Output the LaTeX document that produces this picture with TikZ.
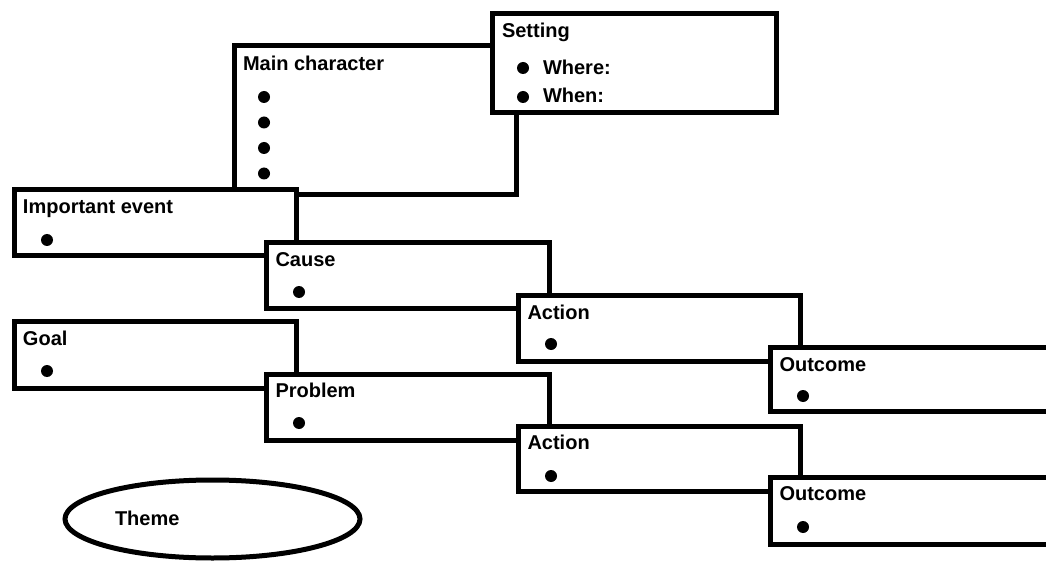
\documentclass[tikz,border=0pt]{standalone}
\usepackage{fontspec}
\setmainfont{Liberation Sans}
\usetikzlibrary{calc,shapes.geometric}
\begin{document}
\begin{tikzpicture}[x=1pt,y=-1pt,
  box/.style={draw=black, line width=5pt, fill=white, rectangle, inner sep=0pt, outer sep=0pt, anchor=north west},
  lbl/.style={anchor=base west, inner sep=0pt, outer sep=0pt, font=\bfseries\fontsize{20}{23}\selectfont},
  dot/.style={circle, fill=black, draw=none, inner sep=0pt, outer sep=0pt, minimum size=12pt},
  oval/.style={ellipse, draw=black, line width=5pt, fill=white, inner sep=0pt, outer sep=0pt}]
\useasboundingbox (0,0) rectangle (1046,561);
\clip (0,0) rectangle (1046,561);
\fill[white] (0,0) rectangle (1046,561);

% Main character
\node[box, minimum width=282pt, minimum height=149pt] (mc) at (234,46) {};
\node[lbl] (mc-t) at ($(mc.north west)+(9,25)$) {Main character};
\node[dot] (mc-b1) at ($(mc.north west)+(30,51)$) {};
\node[dot] (mc-b2) at ($(mc.north west)+(30,76.5)$) {};
\node[dot] (mc-b3) at ($(mc.north west)+(30,102)$) {};
\node[dot] (mc-b4) at ($(mc.north west)+(30,127.5)$) {};

% Setting
\node[box, minimum width=284pt, minimum height=99pt] (set) at (492,14) {};
\node[lbl] (set-t) at ($(set.north west)+(10,24)$) {Setting};
\node[dot] (set-b1) at ($(set.north west)+(31,54)$) {};
\node[lbl] (set-w1) at ($(set.north west)+(51,61)$) {Where:};
\node[dot] (set-b2) at ($(set.north west)+(31,83)$) {};
\node[lbl] (set-w2) at ($(set.north west)+(51,89)$) {When:};

% Chain 1
\node[box, minimum width=282pt, minimum height=66pt] (ie) at (14,190) {};
\node[lbl] (ie-t) at ($(ie.north west)+(9,24)$) {Important event};
\node[dot] (ie-b) at ($(ie.north west)+(33,50)$) {};

\node[box, minimum width=283pt, minimum height=65pt] (cause) at (266,243) {};
\node[lbl] (cause-t) at ($(cause.north west)+(9.5,23)$) {Cause};
\node[dot] (cause-b) at ($(cause.north west)+(33,49)$) {};

\node[box, minimum width=282pt, minimum height=66pt] (act1) at (518,295) {};
\node[lbl] (act1-t) at ($(act1.north west)+(9.5,24)$) {Action};
\node[dot] (act1-b) at ($(act1.north west)+(33,49)$) {};

\node[box, minimum width=300pt, minimum height=64pt] (out1) at (770,347) {};
\node[lbl] (out1-t) at ($(out1.north west)+(9.5,24)$) {Outcome};
\node[dot] (out1-b) at ($(out1.north west)+(33,49)$) {};

% Chain 2
\node[box, minimum width=282pt, minimum height=67pt] (goal) at (14,321) {};
\node[lbl] (goal-t) at ($(goal.north west)+(9,24)$) {Goal};
\node[dot] (goal-b) at ($(goal.north west)+(33,50)$) {};

\node[box, minimum width=283pt, minimum height=66pt] (prob) at (266,374) {};
\node[lbl] (prob-t) at ($(prob.north west)+(9.5,23.5)$) {Problem};
\node[dot] (prob-b) at ($(prob.north west)+(33,49)$) {};

\node[box, minimum width=282pt, minimum height=65pt] (act2) at (518,426) {};
\node[lbl] (act2-t) at ($(act2.north west)+(9.5,23.5)$) {Action};
\node[dot] (act2-b) at ($(act2.north west)+(33,50)$) {};

\node[box, minimum width=300pt, minimum height=67pt] (out2) at (770,477) {};
\node[lbl] (out2-t) at ($(out2.north west)+(9.5,23.5)$) {Outcome};
\node[dot] (out2-b) at ($(out2.north west)+(33,50)$) {};

% Theme
\node[oval, minimum width=295pt, minimum height=78pt] (theme) at (212.5,519) {};
\node[lbl] (theme-t) at (115,525) {Theme};
\end{tikzpicture}
\end{document}
